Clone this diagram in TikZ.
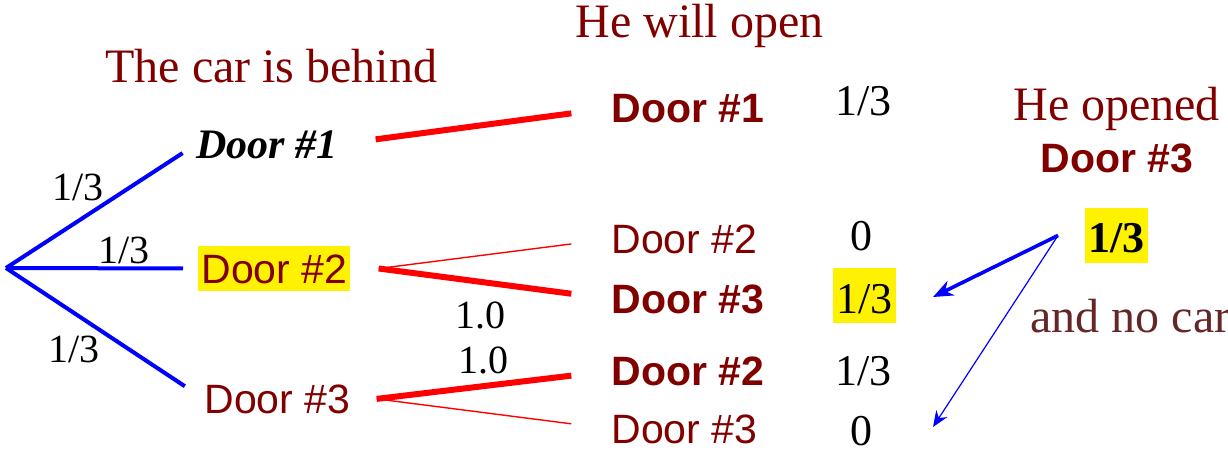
\documentclass[tikz,border=0pt]{standalone}
\usepackage{fontspec}
\setmainfont{Liberation Serif}
\setsansfont{Liberation Sans}
\usepackage{tikz}
\usetikzlibrary{positioning,arrows.meta}
\definecolor{maroon}{RGB}{128,0,0}
\definecolor{dullred}{RGB}{100,38,38}

\begin{document}
\begin{tikzpicture}[x=.5pt,y=-.5pt,>=Stealth,
  branch/.style={blue,line width=2pt},
  pick/.style={red,line width=3pt},
  nopick/.style={red,line width=.7pt},
  head/.style={maroon,font=\fontsize{24}{28}\selectfont,anchor=base west,inner sep=0pt},
  door/.style={maroon,font=\sffamily\fontsize{20.5}{24}\selectfont,anchor=base west,inner sep=0pt},
  bdoor/.style={door,font=\sffamily\bfseries\fontsize{20.5}{24}\selectfont},
  prob/.style={font=\fontsize{22}{26}\selectfont,anchor=base west,inner sep=0pt},
  lbl/.style={font=\fontsize{20}{24}\selectfont,anchor=base west,inner sep=0pt},
  hl/.style={fill=yellow,inner xsep=1.5pt}]
  \useasboundingbox (0,0) rectangle (1228,452);
  % headings
  \node[head] (hcar) at (105,82) {The car is behind};
  \node[head] (hopen) at (575,37) {He will open};
  \node[head] (hsaw) at (1013,120) {He opened};
  \node[bdoor] (hdoor) at (1040,172) {Door \#3};
  \node[head,dullred] (nocar) at (1030,332) {and no car};
  % where the car is
  \coordinate (root) at (6,268);
  \node[font=\bfseries\itshape\fontsize{21}{25}\selectfont,anchor=base west,inner sep=0pt] (c1) at (196,158) {Door \#1};
  \node[door,hl,text height=18.5pt,text depth=4pt] (c2) at (198,283) {Door \#2};
  \node[door] (c3) at (204,413) {Door \#3};
  \draw[branch,shorten >=8pt] (root) -- (c1.west);
  \draw[branch,shorten >=7.5pt] (root) -- (c2.west);
  \draw[branch,shorten >=11.5pt] (root) -- (c3.west);
  \node[lbl] (q1) at (52,200) {1/3};
  \node[lbl] (q2) at (98,263) {1/3};
  \node[lbl] (q3) at (48,362) {1/3};
  % which door he opens
  \node[bdoor] (m1) at (611,122) {Door \#1};
  \node[door] (m2) at (611,253) {Door \#2};
  \node[bdoor] (m3) at (611,313) {Door \#3};
  \node[bdoor] (m4) at (611,385) {Door \#2};
  \node[door] (m5) at (611,443) {Door \#3};
  \coordinate (f2) at ([xshift=14pt]c2.east);
  \coordinate (f3) at ([xshift=13pt]c3.east);
  \draw[pick,shorten <=19pt,shorten >=20pt] (c1.east) -- (m1.west);
  \draw[nopick,shorten >=20pt] (f2) -- (m2.west);
  \draw[pick,shorten >=20pt] (f2) -- (m3.west);
  \draw[pick,shorten >=20pt] (f3) -- (m4.west);
  \draw[nopick,shorten >=20pt] (f3) -- (m5.west);
  \node[lbl] (r1) at (455,328) {1.0};
  \node[lbl] (r2) at (458,373) {1.0};
  % joint probabilities
  \node[prob] (p1) at (835,115) {1/3};
  \node[prob] (p2) at (850,250) {0};
  \node[prob,hl,text height=22.5pt,text depth=5pt] (p3) at (833,313) {1/3};
  \node[prob] (p4) at (835,385) {1/3};
  \node[prob] (p5) at (850,445) {0};
  % observation
  \node[prob,hl,font=\bfseries\fontsize{22}{26}\selectfont,text height=22pt,text depth=5.5pt] (post) at (1085,252) {1/3};
  \coordinate (src) at ([xshift=-13.5pt]post.west);
  \coordinate (a1) at (933,297);
  \coordinate (a2) at (933,427);
  \draw[->,blue,line width=1.8pt,>={Stealth[length=10pt,width=8pt]}] (src) -- (a1);
  \draw[->,blue,line width=.6pt,>={Stealth[length=8pt,width=6.5pt]}] (src) -- (a2);
\end{tikzpicture}
\end{document}
